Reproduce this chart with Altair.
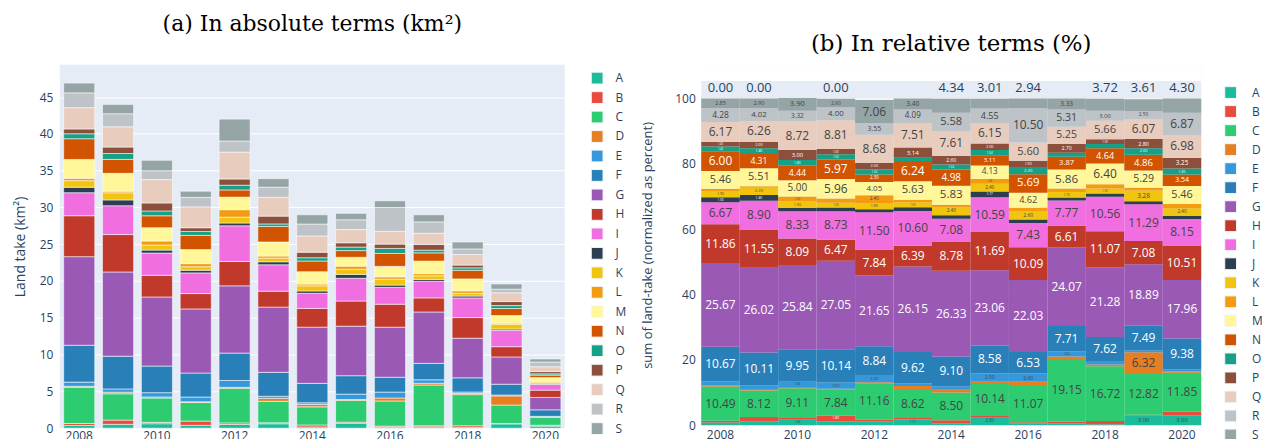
import altair as alt
import pandas as pd

years = [2008, 2009, 2010, 2011, 2012, 2013, 2014, 2015, 2016, 2017, 2018, 2019, 2020]
categories = list("ABCDEFGHIJKLMNOPQRS")
palette = ["#1abc9c", "#e74c3c", "#2ecc71", "#e67e22", "#3498db", "#2980b9", "#9b59b6",
           "#c0392b", "#f06ee0", "#2c3e50", "#f1c40f", "#f39c12", "#fff799", "#d35400",
           "#16a085", "#8c4f3b", "#e8cdbf", "#bdc3c7", "#95a5a6"]

# total land take per year (km²)
totals_km2 = [46.9, 44.0, 36.4, 32.2, 42.0, 33.9, 29.0, 29.2, 30.9, 29.0, 25.3, 19.6, 9.4]

# share of each category per year (%)
share_A = [0.80, 1.20, 1.68, 1.20, 1.20, 1.77, 0.60, 2.30, 0.50, 0.60, 0.30, 3.00, 3.00]
share_B = [0.56, 1.30, 0.50, 1.80, 0.50, 0.40, 0.90, 0.50, 0.40, 0.50, 1.00, 0.20, 1.20]
share_C = [10.49, 8.12, 9.11, 7.84, 11.16, 8.62, 8.50, 10.14, 11.07, 19.15, 16.72, 12.82, 11.85]
share_D = [0.30, 0.50, 0.40, 0.30, 0.30, 1.20, 1.10, 0.40, 1.30, 0.80, 0.60, 6.32, 0.40]
share_E = [1.21, 1.00, 1.60, 2.00, 2.20, 0.80, 0.80, 2.50, 2.60, 1.63, 0.80, 0.60, 0.70]
share_F = [10.67, 10.11, 9.95, 10.14, 8.84, 9.62, 9.10, 8.58, 6.53, 7.71, 7.62, 7.49, 9.38]
share_G = [25.67, 26.02, 25.84, 27.05, 21.65, 26.15, 26.33, 23.06, 22.03, 24.07, 21.28, 18.89, 17.96]
share_H = [11.86, 11.55, 8.09, 6.47, 7.84, 6.39, 8.78, 11.69, 10.09, 6.61, 11.07, 7.08, 10.51]
share_I = [6.67, 8.90, 8.33, 8.73, 11.50, 10.60, 7.08, 10.59, 7.43, 7.77, 10.56, 11.29, 8.15]
share_J = [1.58, 1.80, 1.10, 1.10, 0.90, 1.20, 1.11, 1.77, 1.00, 0.90, 1.00, 0.90, 0.90]
share_K = [1.90, 2.20, 1.90, 1.50, 1.89, 1.50, 2.40, 2.40, 2.60, 1.70, 1.50, 3.28, 2.40]
share_L = [0.70, 0.50, 1.50, 1.30, 2.40, 0.80, 0.80, 1.46, 1.00, 1.00, 1.30, 0.80, 1.30]
share_M = [5.46, 5.51, 5.00, 5.96, 4.05, 5.63, 5.83, 4.13, 4.62, 5.86, 6.40, 5.29, 5.46]
share_N = [6.00, 4.31, 4.44, 5.97, 2.30, 6.24, 4.98, 3.11, 5.69, 3.87, 4.64, 4.86, 3.54]
share_O = [1.43, 1.80, 1.80, 1.62, 1.53, 1.00, 1.54, 1.64, 2.20, 1.26, 1.30, 2.00, 1.85]
share_P = [1.40, 2.00, 3.00, 1.60, 2.00, 3.14, 2.60, 2.00, 1.90, 2.70, 1.50, 2.80, 3.25]
share_Q = [6.17, 6.26, 8.72, 8.81, 8.68, 7.51, 7.61, 6.15, 5.60, 5.25, 5.66, 6.07, 6.98]
share_R = [4.28, 4.02, 3.32, 4.00, 3.55, 4.09, 5.58, 4.55, 10.50, 5.31, 3.00, 2.50, 6.87]
share_S = [2.85, 2.90, 3.90, 2.60, 7.06, 3.40, 4.34, 3.01, 2.94, 3.33, 3.72, 3.61, 4.30]

# labels printed above the stacks in panel (b)
outside_labels = ["0.00", "0.00", "", "0.00", "", "", "4.34", "3.01", "2.94", "", "3.72", "3.61", "4.30"]

shares = {"A": share_A, "B": share_B, "C": share_C, "D": share_D, "E": share_E, "F": share_F,
          "G": share_G, "H": share_H, "I": share_I, "J": share_J, "K": share_K, "L": share_L,
          "M": share_M, "N": share_N, "O": share_O, "P": share_P, "Q": share_Q, "R": share_R,
          "S": share_S}

year_sums = [sum(shares[c][i] for c in categories) for i in range(len(years))]
rows = []
for k, c in enumerate(categories):
    for i, yr in enumerate(years):
        p = shares[c][i]
        rows.append({"year": yr, "cat": c, "idx": k, "pct": p,
                     "km2": p / year_sums[i] * totals_km2[i],
                     "label": f"{p:.2f}",
                     "outside": bool(c == "S" and outside_labels[i] == f"{p:.2f}")})
df = pd.DataFrame(rows)
top_df = pd.DataFrame({"year": years, "label": outside_labels})

color_scale = alt.Scale(domain=categories, range=palette)
even_years = years[::2]
FONT = "Open Sans"
AX = "#2a3f5f"
BG = "#E5ECF6"


def legend(lx, ly, rowpad, loff):
    return alt.Legend(title=None, symbolType="square", symbolSize=140, symbolStrokeColor="#f4f6fa",
                      symbolStrokeWidth=1, labelFont=FONT, labelFontSize=12, labelColor=AX,
                      labelOffset=loff, rowPadding=rowpad, padding=0,
                      orient="none", legendX=lx, legendY=ly)


left = alt.Chart(df).mark_bar(stroke="white", strokeWidth=1, strokeOpacity=0.55).encode(
    x=alt.X("year:O", title=None,
            scale=alt.Scale(paddingInner=0.2, paddingOuter=0.1),
            axis=alt.Axis(values=even_years, labelAngle=0, labelPadding=2)),
    y=alt.Y("km2:Q", title="Land take (km²)", stack="zero",
            scale=alt.Scale(domain=[0, 49.4], nice=False),
            axis=alt.Axis(values=list(range(0, 50, 5)), labelPadding=7, titlePadding=12)),
    color=alt.Color("cat:N", scale=color_scale, legend=legend(533, 7, 2.55, 12)),
    order=alt.Order("idx:Q", sort="ascending"),
).properties(
    width=507, height=365,
    title=alt.TitleParams("(a) In absolute terms (km²)", font="DejaVu Serif", fontSize=22,
                          fontWeight="normal", color="black", anchor="middle", frame="group",
                          offset=29),
)

base = alt.Chart(df).transform_stack(
    stack="pct", groupby=["year"], as_=["y0", "y1"],
    sort=[alt.SortField("idx", order="ascending")],
)

x_r = alt.X("year:O", title=None, scale=alt.Scale(paddingInner=0, paddingOuter=0),
            axis=alt.Axis(values=even_years, labelAngle=0, labelPadding=4))

bars = base.mark_bar().encode(
    x=x_r,
    y=alt.Y("y0:Q", title="sum of land-take (normalized as percent)",
            scale=alt.Scale(domain=[0, 110.4], nice=False),
            axis=alt.Axis(values=[0, 20, 40, 60, 80, 100], labelPadding=6, titlePadding=20,
                          titleFontSize=13)),
    y2="y1:Q",
    color=alt.Color("cat:N", scale=color_scale, legend=legend(525, 21.5, 2.1, 15)),
)

# white band above the plotted range (panel b's plot area starts lower)
cover = alt.Chart(top_df).mark_rect(color="white").encode(
    x=alt.value(0), x2=alt.value("width"),
    y=alt.datum(105.5), y2=alt.datum(110.4),
)

texts = base.transform_calculate(
    mid="(datum.y0 + datum.y1) / 2",
    fs="min(12, datum.pct * 2.05 - 0.3)",
).transform_filter("datum.fs >= 2.5 && !datum.outside").mark_text(
    font=FONT, baseline="middle", align="center"
).encode(
    x=alt.X("year:O"),
    y=alt.Y("mid:Q"),
    text="label:N",
    size=alt.Size("fs:Q", scale=None),
    color=alt.condition(
        alt.FieldOneOfPredicate(field="cat", oneOf=["B", "F", "G", "H", "J", "N", "O", "P"]),
        alt.value("white"), alt.value("#444444")),
)

tops = alt.Chart(top_df).mark_text(font=FONT, fontSize=13, color=AX, dy=-11,
                                   baseline="middle").encode(
    x=alt.X("year:O"),
    y=alt.datum(100),
    text="label:N",
)

right = alt.layer(bars, cover, texts, tops).properties(
    width=502, height=362,
    title=alt.TitleParams("(b) In relative terms (%)", font="DejaVu Serif", fontSize=23,
                          fontWeight="normal", color="black", anchor="middle", frame="group",
                          offset=9),
)

chart = alt.hconcat(left, right, spacing=15).resolve_scale(
    color="independent", x="independent", y="independent"
).properties(padding={"left": 5, "top": 4, "right": 0, "bottom": 0}).configure_view(
    fill=BG, stroke=None
).configure_axis(
    labelFont=FONT, labelFontSize=12, labelColor=AX,
    titleFont=FONT, titleFontSize=14, titleColor=AX, titleFontWeight="normal",
    gridColor="white", gridWidth=1, domain=False, ticks=False,
).configure_axisX(grid=False)

chart.save("out.html", embed_options={"renderer": "svg", "actions": False})
